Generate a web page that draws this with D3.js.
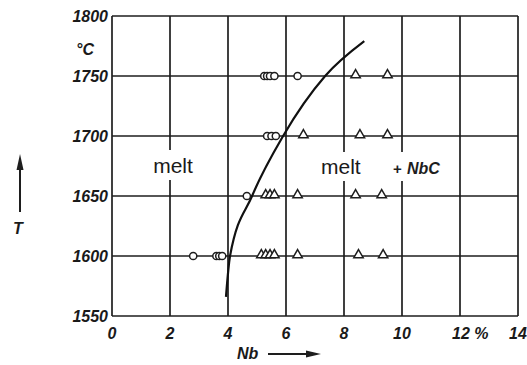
<!DOCTYPE html>
<html>
<head>
<meta charset="utf-8">
<script src="https://cdn.jsdelivr.net/npm/d3@7"></script>
<style>
  html, body { margin: 0; padding: 0; background: #fff; }
  svg { display: block; }
  .tick-label { font-family: "Liberation Sans", Arial, sans-serif; font-weight: bold; font-style: italic; font-size: 16px; fill: #1a1a1a; }
  .region { font-family: "Liberation Sans", Arial, sans-serif; font-size: 21px; fill: #1a1a1a; }
</style>
</head>
<body>
<svg id="chart" width="527" height="365"></svg>
<script>
// Axis ticks
const xTicks = [0, 2, 4, 6, 8, 10, 12, 14];
const xTickLabels = ["0", "2", "4", "6", "8", "10", "12 %", "14"];
const yTicks = [1550, 1600, 1650, 1700, 1750, 1800];

// Experimental points: open circles = melt only, triangles = melt + NbC
const circleNb   = [5.25, 5.35, 5.45, 5.6, 6.4,   5.35, 5.5, 5.65,   4.65,   2.8, 3.6, 3.7, 3.8];
const circleT    = [1750, 1750, 1750, 1750, 1750, 1700, 1700, 1700,  1650,   1600, 1600, 1600, 1600];
const triangleNb = [8.4, 9.5,   6.6, 8.55, 9.5,   5.3, 5.45, 5.6, 6.4, 8.4, 9.3,   5.15, 5.3, 5.45, 5.6, 6.4, 8.5, 9.35];
const triangleT  = [1750, 1750, 1700, 1700, 1700, 1650, 1650, 1650, 1650, 1650, 1650, 1600, 1600, 1600, 1600, 1600, 1600, 1600];

// Liquidus boundary between "melt" and "melt + NbC"
const boundaryNb = [3.93, 4.07, 4.83, 5.9, 7.35, 8.7];
const boundaryT  = [1566, 1600, 1650, 1700, 1750, 1779];

const svg = d3.select("#chart");
const x = d3.scaleLinear().domain([0, 14]).range([112, 518]);
const y = d3.scaleLinear().domain([1550, 1800]).range([316, 16]);
const ink = "#1e1e1e";

// Grid
const grid = svg.append("g").attr("stroke", ink).attr("stroke-width", 1.7);
grid.selectAll("line.v").data(xTicks).join("line")
  .attr("x1", d => x(d)).attr("x2", d => x(d))
  .attr("y1", y(1800)).attr("y2", y(1550));
grid.selectAll("line.h").data(yTicks).join("line")
  .attr("x1", x(0)).attr("x2", x(14))
  .attr("y1", d => y(d)).attr("y2", d => y(d));

// Region labels, with a white gap cut into the grid
const labels = svg.append("g");
labels.append("rect").attr("x", 140).attr("y", 150).attr("width", 66).attr("height", 30).attr("fill", "#fff");
labels.append("rect").attr("x", 318).attr("y", 152).attr("width", 132).attr("height", 29).attr("fill", "#fff");
labels.append("text").attr("class", "region").attr("x", 173).attr("y", 173).attr("text-anchor", "middle").text("melt");
labels.append("text").attr("class", "region").attr("x", 321).attr("y", 174).text("melt");
labels.append("text").attr("x", 393).attr("y", 174)
  .style("font-family", "Liberation Sans, Arial, sans-serif").style("font-weight", "bold").style("font-size", "15px")
  .attr("fill", ink).text("+");
labels.append("text").attr("x", 407).attr("y", 174)
  .style("font-family", "Liberation Sans, Arial, sans-serif").style("font-weight", "bold").style("font-style", "italic").style("font-size", "16px")
  .attr("fill", ink).text("NbC");

// Boundary curve
const curvePts = boundaryNb.map((d, i) => [d, boundaryT[i]]);
svg.append("path")
  .attr("d", d3.line().x(d => x(d[0])).y(d => y(d[1])).curve(d3.curveMonotoneX)(curvePts))
  .attr("fill", "none").attr("stroke", "#111").attr("stroke-width", 2.2);

// Markers
svg.append("g").selectAll("circle").data(circleNb.map((d, i) => [d, circleT[i]])).join("circle")
  .attr("cx", d => x(d[0])).attr("cy", d => y(d[1])).attr("r", 3.6)
  .attr("fill", "#fff").attr("stroke", ink).attr("stroke-width", 1.5);
const tri = d3.symbol().type(d3.symbolTriangle).size(38);
svg.append("g").selectAll("path").data(triangleNb.map((d, i) => [d, triangleT[i]])).join("path")
  .attr("d", tri).attr("transform", d => `translate(${x(d[0])},${y(d[1]) - 1})`)
  .attr("fill", "#fff").attr("stroke", ink).attr("stroke-width", 1.5);

// Tick labels
svg.append("g").selectAll("text").data(yTicks).join("text")
  .attr("class", "tick-label").attr("x", 108).attr("y", d => y(d) + 6)
  .attr("text-anchor", "end").text(d => d);
svg.append("g").selectAll("text").data(xTicks).join("text")
  .attr("class", "tick-label").attr("x", (d, i) => i === 6 ? x(d) - 8 : x(d)).attr("y", 339)
  .attr("text-anchor", (d, i) => i === 6 ? "start" : "middle").text((d, i) => xTickLabels[i]);

// Units and axis names
svg.append("text").attr("class", "tick-label").attr("x", 85).attr("y", 55).attr("text-anchor", "middle").text("°C");
svg.append("text").attr("class", "tick-label").attr("x", 18).attr("y", 234).attr("text-anchor", "middle").text("T");
svg.append("text").attr("class", "tick-label").attr("x", 237).attr("y", 359).text("Nb");

// Axis arrows
const arrows = svg.append("g").attr("stroke", ink).attr("fill", ink);
arrows.append("line").attr("x1", 20).attr("x2", 20).attr("y1", 212).attr("y2", 165).attr("stroke-width", 2);
arrows.append("path").attr("d", "M20,154 L16.5,170 L23.5,170 Z").attr("stroke", "none");
arrows.append("line").attr("x1", 268).attr("x2", 310).attr("y1", 354).attr("y2", 354).attr("stroke-width", 1.8);
arrows.append("path").attr("d", "M321,354 L306,350.5 L306,357.5 Z").attr("stroke", "none");
</script>
</body>
</html>
